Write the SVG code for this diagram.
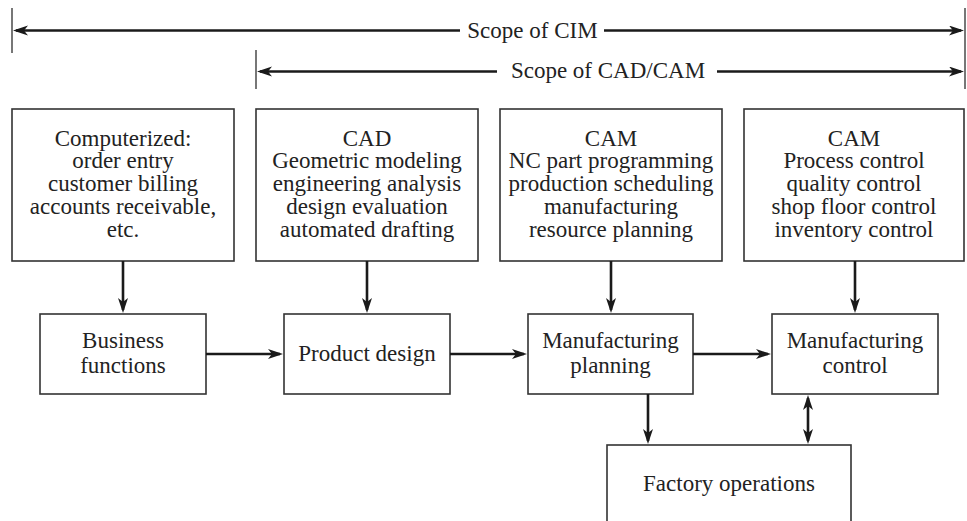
<svg xmlns="http://www.w3.org/2000/svg" width="967" height="521" viewBox="0 0 967 521">
<defs>
<marker id="ah" markerUnits="userSpaceOnUse" markerWidth="16" markerHeight="11" refX="12" refY="5" orient="auto-start-reverse" viewBox="0 0 16 11">
<path d="M0,0 L15,5 L0,10 L4,5 Z" fill="#1a1a1a"/>
</marker>
<style>
.box{fill:#fff;stroke:#333;stroke-width:1.6}
.t{font-family:"Liberation Serif","Times New Roman",serif;font-size:23px;fill:#222;text-anchor:middle}
.a{stroke:#1a1a1a;stroke-width:2.6;fill:none;marker-end:url(#ah)}
.b{stroke:#1a1a1a;stroke-width:2.6;fill:none;marker-start:url(#ah);marker-end:url(#ah)}
.tick{stroke:#555;stroke-width:1.6}
</style>
</defs>
<rect width="967" height="521" fill="#fff"/>

<g id="scope-cim">
<line class="tick" x1="12" y1="8" x2="12" y2="53"/>
<line class="tick" x1="965" y1="8" x2="965" y2="89"/>
<line class="a" x1="460" y1="30.5" x2="16" y2="30.5"/>
<line class="a" x1="604" y1="30.5" x2="961" y2="30.5"/>
<text class="t" x="532.5" y="37.5">Scope of CIM</text>
</g>
<g id="scope-cadcam">
<line class="tick" x1="256" y1="50" x2="256" y2="89"/>
<line class="a" x1="497" y1="71.5" x2="260" y2="71.5"/>
<line class="a" x1="717" y1="71.5" x2="961" y2="71.5"/>
<text class="t" x="608" y="78">Scope of CAD/CAM</text>
</g>

<g id="computerized">
<rect class="box" x="12" y="109" width="222" height="152"/>
<text class="t" x="123" y="145.5">Computerized:</text>
<text class="t" x="123" y="168.3">order entry</text>
<text class="t" x="123" y="191.1">customer billing</text>
<text class="t" x="123" y="214">accounts receivable,</text>
<text class="t" x="123" y="236.8">etc.</text>
</g>
<g id="cad">
<rect class="box" x="256" y="109" width="222" height="152"/>
<text class="t" x="367" y="145.5">CAD</text>
<text class="t" x="367" y="168.3">Geometric modeling</text>
<text class="t" x="367" y="191.1">engineering analysis</text>
<text class="t" x="367" y="214">design evaluation</text>
<text class="t" x="367" y="236.8">automated drafting</text>
</g>
<g id="cam1">
<rect class="box" x="500" y="109" width="222" height="152"/>
<text class="t" x="611" y="145.5">CAM</text>
<text class="t" x="611" y="168.3">NC part programming</text>
<text class="t" x="611" y="191.1">production scheduling</text>
<text class="t" x="611" y="214">manufacturing</text>
<text class="t" x="611" y="236.8">resource planning</text>
</g>
<g id="cam2">
<rect class="box" x="744" y="109" width="220" height="152"/>
<text class="t" x="854" y="145.5">CAM</text>
<text class="t" x="854" y="168.3">Process control</text>
<text class="t" x="854" y="191.1">quality control</text>
<text class="t" x="854" y="214">shop floor control</text>
<text class="t" x="854" y="236.8">inventory control</text>
</g>

<g id="business">
<rect class="box" x="40" y="314" width="166" height="80"/>
<text class="t" x="123" y="347.5">Business</text>
<text class="t" x="123" y="372.5">functions</text>
</g>
<g id="product">
<rect class="box" x="284" y="314" width="166" height="80"/>
<text class="t" x="367" y="361">Product design</text>
</g>
<g id="mfg-planning">
<rect class="box" x="528" y="314" width="165" height="80"/>
<text class="t" x="610.5" y="347.5">Manufacturing</text>
<text class="t" x="610.5" y="372.5">planning</text>
</g>
<g id="mfg-control">
<rect class="box" x="772" y="314" width="166" height="80"/>
<text class="t" x="855" y="347.5">Manufacturing</text>
<text class="t" x="855" y="372.5">control</text>
</g>
<g id="factory">
<rect class="box" x="607" y="445" width="244" height="90"/>
<text class="t" x="729" y="491">Factory operations</text>
</g>

<g id="connectors">
<line class="a" x1="123" y1="261" x2="123" y2="310"/>
<line class="a" x1="367" y1="261" x2="367" y2="310"/>
<line class="a" x1="611" y1="261" x2="611" y2="310"/>
<line class="a" x1="855" y1="261" x2="855" y2="310"/>
<line class="a" x1="206" y1="354" x2="280" y2="354"/>
<line class="a" x1="450" y1="354" x2="524" y2="354"/>
<line class="a" x1="693" y1="354" x2="768" y2="354"/>
<line class="a" x1="648" y1="394" x2="648" y2="441"/>
<line class="b" x1="808" y1="398" x2="808" y2="441"/>
</g>
</svg>
